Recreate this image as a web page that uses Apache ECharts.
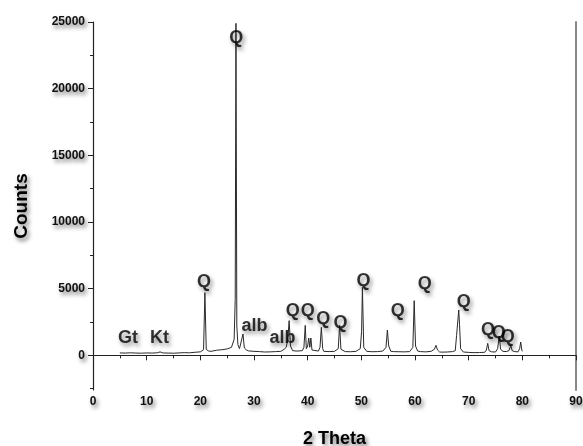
<!DOCTYPE html>
<html>
<head>
<meta charset="utf-8">
<script src="https://cdn.jsdelivr.net/npm/echarts@6/dist/echarts.min.js"></script>
<style>
  html, body { margin: 0; padding: 0; background: #fff; }
  #chart { width: 583px; height: 446px; }
</style>
</head>
<body>
<div id="chart"></div>
<script>
// XRD scan: diffraction angle (degrees 2θ) and intensity (counts)
const twoTheta = [
  5, 6, 7, 8, 9, 10, 11, 12, 12.5, 13, 14, 15, 16, 17, 18, 19,
  20, 20.6, 20.85, 21.1, 21.5, 22, 23, 24, 25, 25.8, 26.3,
  26.5, 26.64, 26.8, 27.0, 27.3, 27.6, 27.95, 28.2, 28.6,
  29, 30, 31, 32, 33, 34, 35, 35.6, 36.0, 36.3, 36.55, 36.8, 37.2,
  38, 39, 39.3, 39.55, 39.75, 40.0, 40.2, 40.4, 40.6, 40.8, 41, 42, 42.3, 42.55, 42.8, 43,
  44, 45, 45.7, 45.95, 46.2, 46.5, 47, 48, 49, 49.8, 50.05, 50.2, 50.45, 51, 52, 53, 54, 54.6, 54.85, 55.1, 55.5, 56,
  57, 58, 59, 59.6, 59.85, 60.1, 60.5, 61, 62, 63, 63.6, 63.9, 64.2, 64.6, 65, 66,
  67, 67.5, 67.75, 67.9, 68.15, 68.3, 68.5, 69, 70, 71, 72, 73, 73.3, 73.55, 73.8, 74.3,
  75, 75.4, 75.7, 75.95, 76.4, 77, 77.5, 77.85, 78.1, 78.6, 79.2, 79.5, 79.7, 79.9, 80
];
const counts = [
  180, 170, 190, 170, 160, 180, 170, 190, 260, 180, 170, 160, 180, 200, 190, 230,
  260, 420, 4700, 450, 330, 300, 380, 420, 480, 600, 1200,
  4200, 24900, 2200, 800, 500, 450, 1600, 550, 400,
  330, 300, 280, 250, 260, 280, 300, 450, 600, 1200, 2600, 700, 350,
  320, 350, 600, 2250, 500, 700, 1300, 600, 1300, 400, 300, 320, 600, 2100, 500, 300,
  280, 300, 500, 2250, 450, 320, 280, 270, 300, 500, 1800, 5100, 600, 300, 270, 280, 320, 600, 1900, 700, 300, 280,
  270, 260, 280, 600, 4100, 700, 320, 280, 260, 300, 450, 750, 400, 250, 240, 250,
  280, 350, 1500, 2200, 3400, 2300, 500, 250, 220, 200, 210, 230, 400, 900, 350, 260,
  250, 500, 1450, 450, 300, 280, 350, 750, 350, 280, 260, 500, 1000, 400, 300
];

// Phase labels and where they sit (2θ, counts)
const labelText   = ['Gt', 'Kt', 'Q', 'Q', 'alb', 'alb', 'Q', 'Q', 'Q', 'Q', 'Q', 'Q', 'Q', 'Q', 'Q', 'Q', 'Q'];
const labelTheta  = [6.5, 12.4, 20.7, 26.7, 30.1, 35.3, 37.2, 40.0, 42.9, 46.1, 50.4, 56.8, 61.8, 69.1, 73.6, 75.6, 77.3];
const labelCounts = [1280, 1280, 5480, 23800, 2180, 1280, 3300, 3300, 2700, 2400, 5550, 3300, 5330, 3980, 1880, 1650, 1350];

// Axis ticks
const yLabelValues = [0, 5000, 10000, 15000, 20000, 25000];
const yMinorValues = [-2500, 2500, 7500, 12500, 17500, 22500];

const shadow = {
  textShadowColor: 'rgba(0,0,0,0.55)',
  textShadowBlur: 4,
  textShadowOffsetX: 2,
  textShadowOffsetY: 3
};

const chart = echarts.init(document.getElementById('chart'));

const scan = twoTheta.map((t, i) => [t, counts[i]]);
const labels = labelText.map((s, i) => ({ name: s, value: [labelTheta[i], labelCounts[i]] }));

const yBase = { type: 'value', min: -2600, max: 25000, splitLine: { show: false } };

chart.setOption({
  animation: false,
  backgroundColor: '#fff',
  grid: { left: 93, right: 7, top: 22, bottom: 56, outerBoundsMode: 'none' },
  xAxis: {
    type: 'value',
    min: 0, max: 90, interval: 10,
    name: '2 Theta',
    nameLocation: 'middle',
    nameGap: 40,
    nameTextStyle: Object.assign({ fontFamily: 'Liberation Sans', fontWeight: 'bold', fontSize: 18, color: '#000' }, shadow),
    axisLine: { lineStyle: { color: '#222', width: 1.2 } },
    axisTick: { length: 5, lineStyle: { color: '#222' } },
    minorTick: { show: true, splitNumber: 2, length: 3, lineStyle: { color: '#222' } },
    splitLine: { show: false },
    axisLabel: Object.assign({ fontFamily: 'Liberation Sans', fontWeight: 'bold', fontSize: 12, color: '#111', margin: 6 }, shadow)
  },
  yAxis: [
    Object.assign({}, yBase, {
      position: 'left',
      name: 'Counts',
      nameLocation: 'middle',
      nameGap: 62,
      nameRotate: 90,
      nameTextStyle: Object.assign({ fontFamily: 'Liberation Sans', fontWeight: 'bold', fontSize: 19, color: '#000' }, shadow),
      axisLine: { show: true, lineStyle: { color: '#222', width: 1.2 } },
      axisTick: { show: true, length: 5, customValues: yLabelValues, lineStyle: { color: '#222' } },
      axisLabel: Object.assign({
        fontFamily: 'Liberation Sans', fontWeight: 'bold', fontSize: 12, color: '#111', margin: 8,
        customValues: yLabelValues,
        formatter: v => String(v)
      }, shadow)
    }),
    Object.assign({}, yBase, {
      position: 'left',
      axisLine: { show: false },
      axisTick: { show: true, length: 3, customValues: yMinorValues, lineStyle: { color: '#222' } },
      axisLabel: { show: false }
    }),
    Object.assign({}, yBase, {
      position: 'right',
      axisLine: { show: true, lineStyle: { color: '#888', width: 2 } },
      axisTick: { show: false },
      axisLabel: { show: false }
    })
  ],
  series: [
    {
      type: 'line',
      data: scan,
      showSymbol: false,
      symbol: 'none',
      lineStyle: { color: '#2a2a2a', width: 1 },
      z: 2
    },
    {
      type: 'scatter',
      data: labels,
      symbolSize: 0,
      label: Object.assign({
        show: true,
        position: 'inside',
        formatter: p => p.name,
        fontFamily: 'Liberation Sans',
        fontWeight: 'bold',
        fontSize: 18,
        color: '#000'
      }, shadow),
      z: 3
    }
  ]
});
</script>
</body>
</html>
